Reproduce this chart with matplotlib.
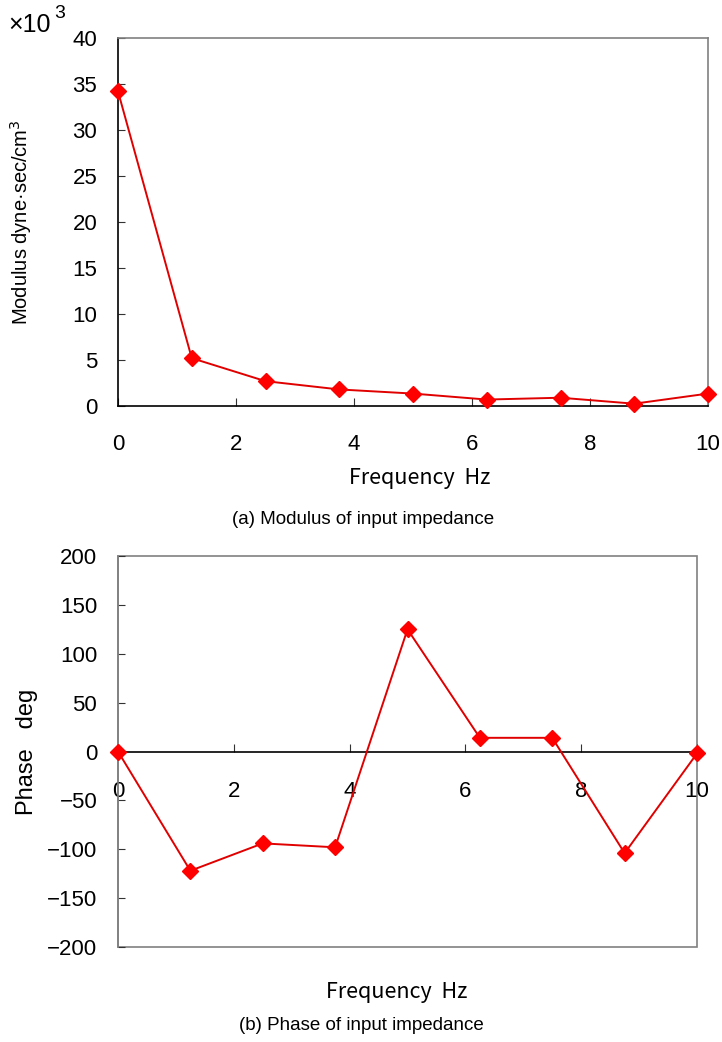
import matplotlib
matplotlib.use("Agg")
import matplotlib.pyplot as plt
from matplotlib.patches import Rectangle

freq = [0, 1.25, 2.5, 3.75, 5, 6.25, 7.5, 8.75, 10]
modulus = [34.2, 5.2, 2.7, 1.8, 1.35, 0.7, 0.9, 0.25, 1.35]   # x10^3 dyne.sec/cm^3
phase = [0, -122, -94, -98, 125, 14, 14, -104, -2]           # deg
xticks = [0, 2, 4, 6, 8, 10]
mod_ticks = [0, 5, 10, 15, 20, 25, 30, 35, 40]
phase_ticks = [-200, -150, -100, -50, 0, 50, 100, 150, 200]

plt.rcParams['font.family'] = ['Liberation Sans', 'DejaVu Sans']
labfont = ['Noto Sans CJK JP', 'DejaVu Sans']
TICK_FS = 16

fig = plt.figure(figsize=(7.22, 10.42), dpi=100)
W, H = 722, 1042

def axes_px(l, t, r, b):
    return fig.add_axes([l / W, 1 - b / H, (r - l) / W, (b - t) / H])

def fx(x):
    return x / W

def fy(y):
    return 1 - y / H

line_c = '#e00000'
mark_c = '#ff0000'

# ---------- (a) modulus ----------
ax1 = axes_px(118, 38, 708, 406)
ax1.plot(freq, modulus, color=line_c, lw=1.4, marker='D', ms=8,
         mfc=mark_c, mec=mark_c, clip_on=False, zorder=5)
ax1.set_xlim(0, 10)
ax1.set_ylim(0, 40)
ax1.set_xticks(xticks)
ax1.set_yticks(mod_ticks)
for s in ['top', 'right']:
    ax1.spines[s].set_color('#808080')
for s in ['left', 'bottom']:
    ax1.spines[s].set_color('#000000')
for s in ax1.spines.values():
    s.set_linewidth(1.2)
ax1.tick_params(axis='x', direction='in', length=6, pad=20, labelsize=TICK_FS, color='#333333')
ax1.tick_params(axis='y', direction='in', length=5, pad=15, labelsize=TICK_FS, color='#333333')
ax1.set_ylabel('Modulus dyne·sec/cm$^3$', fontsize=14.5)
ax1.yaxis.set_label_coords(-0.142, 0.5)
fig.text(fx(420), fy(478), 'Frequency  Hz', family=labfont, fontsize=15.5,
         ha='center', va='center')
fig.text(fx(8), fy(32), '×10', fontsize=18, ha='left', va='baseline')
fig.text(fx(54), fy(18), '3', fontsize=14, ha='left', va='baseline')
fig.text(fx(363), fy(519), '(a) Modulus of input impedance', fontsize=13.5,
         ha='center', va='center')

# ---------- (b) phase ----------
ax2 = axes_px(118, 556, 697, 947)
ax2.plot(freq, phase, color=line_c, lw=1.4, marker='D', ms=8,
         mfc=mark_c, mec=mark_c, clip_on=False, zorder=5)
ax2.set_xlim(0, 10)
ax2.set_ylim(-200, 200)
ax2.set_xticks(xticks)
ax2.set_yticks(phase_ticks)
ax2.set_yticklabels([str(v).replace('-', '−') for v in phase_ticks])
for s in ['top', 'right']:
    ax2.spines[s].set_visible(False)
ax2.spines['bottom'].set_position(('data', 0))
ax2.spines['bottom'].set_color('#000000')
ax2.spines['bottom'].set_linewidth(1.2)
ax2.spines['left'].set_color('#808080')
ax2.spines['left'].set_linewidth(1.2)
ax2.add_patch(Rectangle((0, 0), 1, 1, transform=ax2.transAxes, fill=False,
                        edgecolor='#808080', lw=1.2, zorder=0, clip_on=False))
ax2.tick_params(axis='x', direction='in', length=6, pad=21, labelsize=TICK_FS, color='#333333')
ax2.tick_params(axis='y', direction='in', length=5, pad=15, labelsize=TICK_FS, color='#333333')
ax2.set_ylabel('Phase   deg', fontsize=17)
ax2.yaxis.set_label_coords(-0.138, 0.5)
fig.text(fx(397), fy(992), 'Frequency  Hz', family=labfont, fontsize=15.5,
         ha='center', va='center')
fig.text(fx(361), fy(1025), '(b) Phase of input impedance', fontsize=13.5,
         ha='center', va='center')

fig.savefig('out.png', dpi=100, facecolor='white')
